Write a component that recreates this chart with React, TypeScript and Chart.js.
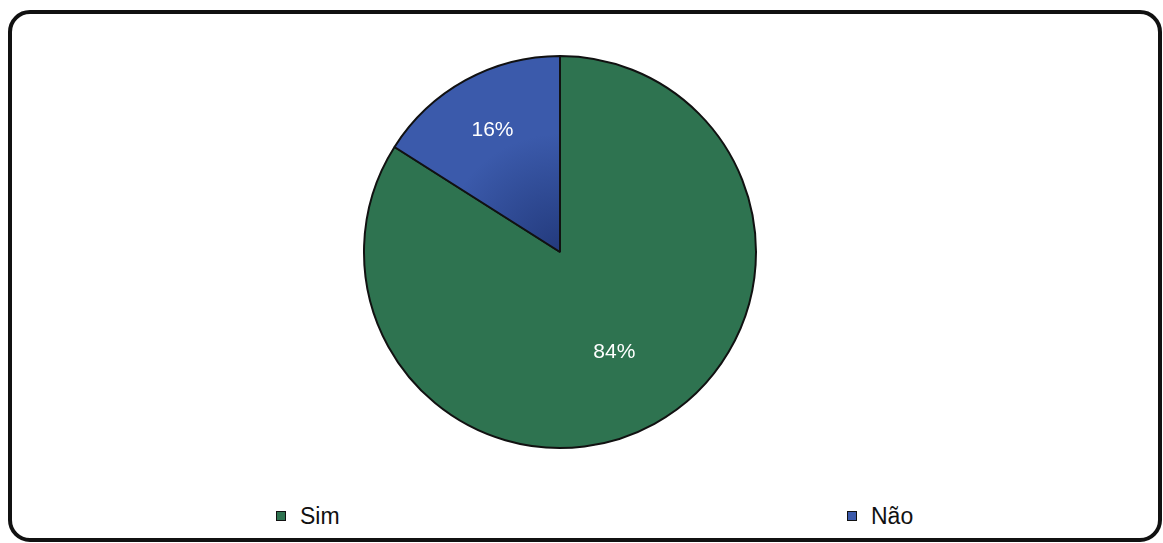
import React, { useEffect, useRef } from "react";
import { Chart, registerables } from "chart.js";

Chart.register(...registerables);

const categories = ["Sim", "Não"];
const values = [84, 16];
const valueLabels = ["84%", "16%"];
const labelRadiusFractions = [0.575, 0.715];
const outerColors = ["#2e7350", "#3b5aab"];
const innerColors = ["#2e7350", "#233a7c"];

const pctLabelPlugin = {
  id: "pctLabels",
  afterDatasetsDraw(chart: any) {
    const ctx = chart.ctx;
    const meta = chart.getDatasetMeta(0);
    ctx.save();
    ctx.fillStyle = "#ffffff";
    ctx.font = "21px 'Liberation Sans', Arial, sans-serif";
    ctx.textAlign = "center";
    ctx.textBaseline = "middle";
    meta.data.forEach((arc: any, i: number) => {
      const p = arc.getProps(["x", "y", "startAngle", "endAngle", "outerRadius"], true);
      const mid = (p.startAngle + p.endAngle) / 2;
      const r = p.outerRadius * labelRadiusFractions[i];
      ctx.fillText(valueLabels[i], p.x + Math.cos(mid) * r, p.y + Math.sin(mid) * r + 1);
    });
    ctx.restore();
  },
};

export default function App() {
  const ref = useRef<HTMLCanvasElement>(null);
  useEffect(() => {
    if (!ref.current) return;
    const chart = new Chart(ref.current, {
      type: "pie",
      data: {
        labels: categories,
        datasets: [
          {
            data: values,
            backgroundColor: (c: any) => {
              const ch = c.chart;
              const area = ch.chartArea;
              if (!area) return outerColors[c.dataIndex];
              const cx = (area.left + area.right) / 2;
              const cy = (area.top + area.bottom) / 2;
              const rr = Math.min(area.right - area.left, area.bottom - area.top) / 2;
              const g = ch.ctx.createRadialGradient(cx, cy, 0, cx, cy, rr);
              g.addColorStop(0, innerColors[c.dataIndex]);
              g.addColorStop(0.6, outerColors[c.dataIndex]);
              g.addColorStop(1, outerColors[c.dataIndex]);
              return g;
            },
            borderColor: "#111111",
            borderWidth: 2,
            borderAlign: "center",
          },
        ],
      },
      options: {
        responsive: false,
        animation: false,
        layout: { padding: 3 },
        plugins: {
          legend: { display: false },
          tooltip: { enabled: false },
        },
      },
      plugins: [pctLabelPlugin],
    });
    return () => chart.destroy();
  }, []);

  const legendPos = [276, 847];

  return (
    <div
      style={{
        position: "absolute",
        left: 0,
        top: 0,
        width: 1163,
        height: 543,
        background: "#ffffff",
        overflow: "hidden",
        fontFamily: "'Liberation Sans', Arial, sans-serif",
      }}
    >
      <div
        style={{
          position: "absolute",
          left: 8,
          top: 10,
          width: 1154 - 8,
          height: 532 - 8,
          border: "4px solid #111111",
          borderRadius: 22,
        }}
      />
      <canvas
        ref={ref}
        width={400}
        height={400}
        style={{ position: "absolute", left: 360, top: 52, width: 400, height: 400 }}
      />
      {categories.map((c, i) => (
        <div
          key={c}
          style={{
            position: "absolute",
            left: legendPos[i],
            top: 502,
            height: 28,
            display: "flex",
            alignItems: "center",
            fontSize: 23,
            color: "#111111",
          }}
        >
          <span
            style={{
              display: "inline-block",
              width: 8,
              height: 8,
              background: outerColors[i],
              border: "1px solid #111",
              marginRight: 14,
            }}
          />
          {c}
        </div>
      ))}
    </div>
  );
}
